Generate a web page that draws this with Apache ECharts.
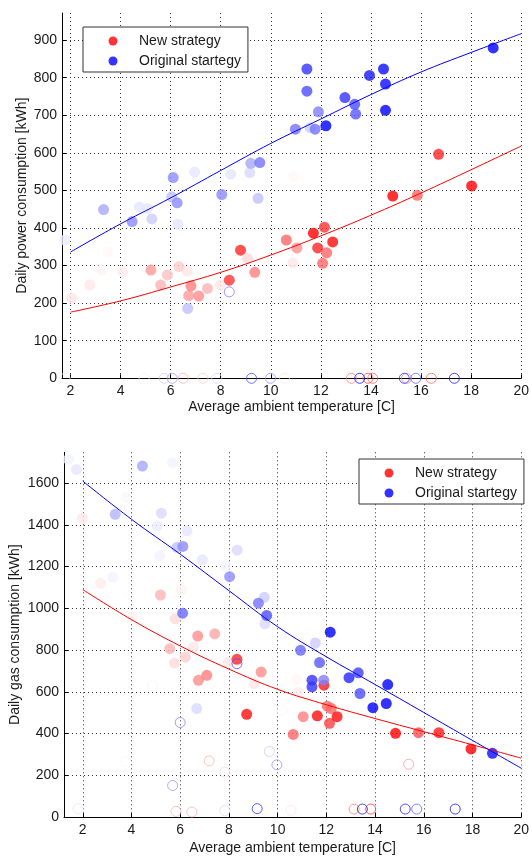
<!DOCTYPE html>
<html><head><meta charset="utf-8">
<script src="https://cdn.jsdelivr.net/npm/echarts@6/dist/echarts.min.js"></script>
<style>html,body{margin:0;padding:0;background:#fff}#c{width:532px;height:856px}</style>
</head><body><div id="c"></div>
<script>
// ---------- tick labels ----------
const tempTicks = [2,4,6,8,10,12,14,16,18,20];
const powerTicks = [0,100,200,300,400,500,600,700,800,900];
const gasTicks = [0,200,400,600,800,1000,1200,1400,1600];
const legendNames = ['New strategy', 'Original startegy'];

// ---------- data: [temperature, consumption, shade(0..1)] ----------
const powerNew = [
 [16.7,596,0.85],[18.02,512,1],[14.87,485,1],[15.85,487,0.6],[10.91,538,0.03],
 [10.62,368,0.6],[11.04,347,0.45],[11.7,386,1],[12.14,402,0.8],[12.47,363,0.95],
 [11.87,347,0.85],[12.23,334,0.6],[12.07,306,0.6],[10.88,307,0.1],
 [8.79,341,0.85],[9.07,319,0.15],[9.36,282,0.5],[8.34,261,0.8],[7.98,248,0.1],
 [7.47,239,0.3],[7.12,219,0.45],[6.72,220,0.4],[6.81,246,0.5],[6.33,297,0.2],
 [6.66,285,0.1],[5.87,275,0.25],[5.21,288,0.4],[5.6,248,0.3],[4.09,284,0.08],
 [3.23,288,0.05],[2.77,248,0.1],[2.05,213,0.1],[3.49,337,0.03]
];
const powerOrig = [
 [18.88,879,1],[11.44,823,0.8],[11.44,764,0.7],[13.94,806,0.9],[14.5,823,0.95],
 [14.58,783,0.95],[12.96,747,0.8],[13.35,729,0.7],[13.39,703,0.65],[14.58,713,1],
 [11.9,709,0.5],[12.2,672,1],[10.98,663,0.55],[11.57,667,0.2],[11.77,663,0.55],
 [9.56,574,0.55],[9.2,572,0.35],[6.1,534,0.45],[6.96,549,0.1],[8.4,543,0.1],
 [9.16,547,0.15],[8.04,489,0.45],[9.49,479,0.25],[6.04,483,0.25],[6.26,467,0.45],
 [3.32,449,0.35],[4.46,417,0.45],[4.75,456,0.1],[5.08,452,0.1],[5.25,424,0.2],
 [6.29,410,0.1],[1.78,368,0.08],[6.68,186,0.25]
];
const powerNewOpen = [
 [6.5,0,0.3],[7.29,0,0.2],[10.54,0,0.1],[13.22,0,0.5],[13.88,0,0.7],[14.07,0,0.6],
 [15.42,0,0.5],[16.41,0,0.6]
];
const powerOrigOpen = [
 [1.78,0,0.05],[4.94,0,0.05],[5.74,0,0.2],[6.06,0,0.35],[7.84,0,0.15],[9.23,0,0.7],
 [9.99,0,0.4],[13.55,0,0.9],[15.33,0,0.8],[15.79,0,0.6],[17.33,0,0.9],[8.34,230,0.5]
];
const gasNew = [
 [17.94,326,1],[16.62,404,0.9],[15.78,404,0.7],[14.84,401,1],[12.44,481,0.95],
 [12.13,449,0.75],[11.63,485,0.95],[12.04,531,0.6],[12.2,520,0.6],[11.9,632,0.9],
 [11.05,481,0.5],[10.64,396,0.6],[10.84,597,0.08],[10.78,660,0.03],[9.32,695,0.45],
 [8.33,756,0.85],[8.73,492,0.95],[7.09,679,0.5],[6.75,655,0.45],[5.77,738,0.15],
 [6.21,767,0.2],[5.57,807,0.3],[6.54,815,0.1],[9.05,640,0.1],[7.96,740,0.1],
 [5.19,1064,0.3],[6.72,867,0.45],[7.42,878,0.35],[5.8,950,0.15],[2.73,1120,0.08],
 [6.04,1088,0.05],[4.04,958,0.05],[1.99,1432,0.1]
];
const gasOrig = [
 [1.41,1714,0.05],[1.74,1666,0.1],[4.45,1682,0.35],[5.69,1698,0.05],[3.33,1451,0.3],
 [5.23,1456,0.15],[5.06,1395,0.08],[3.77,1531,0.03],[6.28,1371,0.1],[6.11,1297,0.45],
 [5.87,1292,0.25],[5.16,1252,0.05],[6.91,1233,0.1],[8.34,1279,0.15],[8.03,1152,0.45],
 [7.86,1204,0.05],[3.23,1149,0.05],[6.1,977,0.6],[9.21,1025,0.55],[9.45,1053,0.2],
 [9.55,966,0.7],[9.48,926,0.15],[12.16,886,1],[11.55,834,0.2],[10.94,799,0.6],
 [11.72,740,0.65],[11.41,656,0.8],[11.41,624,0.8],[11.89,656,0.5],[12.93,668,0.85],
 [13.31,691,0.75],[13.38,592,0.7],[14.52,635,1],[14.46,544,1],[13.91,524,1],
 [18.82,305,0.95],[6.68,520,0.15]
];
const gasNewOpen = [
 [7.19,269,0.3],[7.83,215,0.15],[5.83,27,0.3],[6.48,24,0.3],[10.55,32,0.1],
 [13.14,38,0.5],[13.82,38,0.8],[15.38,253,0.4],[10.17,512,0.05],[3.77,266,0.05]
];
const gasOrigOpen = [
 [8.33,735,0.7],[6.0,453,0.5],[5.69,151,0.4],[4.86,632,0.05],[1.81,40,0.1],
 [7.83,30,0.15],[9.16,40,0.8],[9.66,314,0.2],[9.97,250,0.4],[13.48,38,0.9],
 [15.24,38,0.85],[15.71,38,0.6],[17.29,38,0.9]
];

// ---------- fitted trend lines ----------
const fitX = [2,4,6,8,10,12,14,16,18,20];
const powerNewFit = [176,206,243,282,328,379,434,493,555,618];
const powerOrigFit = [336,411,480,553,625,690,755,815,867,917];
const gasNewFit = [1090,946,820,709,612,538,472,409,346,282];
const gasOrigFit = [1610,1427,1260,1085,912,768,635,501,367,234];

// ---------- helpers ----------
const RED = '#ff0000', BLUE = '#0000ff';
function shade(base, a) {
  const v = Math.round(255 * (1 - a));
  return base === 'red' ? `rgb(255,${v},${v})` : `rgb(${v},${v},255)`;
}
function filled(arr, base) {
  return arr.slice().sort((p, q) => p[2] - q[2]).map(p => ({
    value: [p[0], p[1]], itemStyle: { color: shade(base, p[2]) }
  }));
}
function hollow(arr, base) {
  return arr.slice().sort((p, q) => p[2] - q[2]).map(p => ({
    value: [p[0], p[1]],
    itemStyle: { color: 'rgba(0,0,0,0)', borderColor: shade(base, p[2]), borderWidth: 1 }
  }));
}
function fit(ys) { return fitX.map((x, i) => [x, ys[i]]); }

const FONT = { fontFamily: 'Liberation Sans, Arial, sans-serif', fontSize: 14, color: '#1a1a1a' };
const gridLine = { show: true, showMaxLine: false, lineStyle: { color: '#333', type: [1, 3], width: 1 } };

function xAxisDef(gi, min, gap) {
  return {
    type: 'value', gridIndex: gi, min: min, max: 20, splitNumber: 9, minInterval: 2, maxInterval: 2,
    name: 'Average ambient temperature [C]', nameLocation: 'middle', nameGap: gap,
    nameMoveOverlap: false, nameTextStyle: FONT,
    axisLine: { show: true, onZero: false, lineStyle: { color: '#000', width: 1 } },
    axisTick: { show: true, inside: true, length: 4, lineStyle: { color: '#000' } },
    axisLabel: Object.assign({ margin: 6, showMinLabel: false,
      formatter: v => tempTicks.includes(+v) ? String(v) : '' }, FONT),
    splitLine: { show: true, showMinLine: false, lineStyle: { color: '#333', type: [1, 3], width: 1 } }
  };
}
function yAxisDef(gi, max, interval, name, gap, ticks) {
  return {
    type: 'value', gridIndex: gi, min: 0, max: max, interval: interval,
    name: name, nameLocation: 'middle', nameGap: gap, nameMoveOverlap: false, nameTextStyle: FONT,
    axisLine: { show: true, onZero: false, lineStyle: { color: '#000', width: 1 } },
    axisTick: { show: true, inside: true, length: 4, lineStyle: { color: '#000' } },
    axisLabel: Object.assign({ margin: 5, showMaxLabel: false,
      formatter: v => ticks.includes(+v) ? String(v) : '' }, FONT),
    splitLine: gridLine
  };
}
function scatter(name, data, xi, color, size, z) {
  return { type: 'scatter', name: name, xAxisIndex: xi, yAxisIndex: xi, data: data,
    symbol: 'circle', symbolSize: size, itemStyle: { color: color }, z: z,
    emphasis: { disabled: true }, silent: true };
}
function line(name, data, xi, color) {
  return { type: 'line', name: name, xAxisIndex: xi, yAxisIndex: xi, data: data,
    showSymbol: false, smooth: 0.4, lineStyle: { color: color, width: 1 }, itemStyle: { color: color },
    z: 5, silent: true, emphasis: { disabled: true } };
}
function legendDef(left, top) {
  return {
    left: left, top: top, orient: 'vertical', icon: 'circle',
    itemWidth: 42, itemHeight: 9, itemGap: 4,
    padding: [6, 7, 3, 25.5], borderColor: '#333', borderWidth: 1, backgroundColor: '#fff',
    textStyle: Object.assign({ lineHeight: 16 }, FONT),
    selectedMode: false,
    data: [
      { name: legendNames[0], itemStyle: { color: RED } },
      { name: legendNames[1], itemStyle: { color: BLUE } }
    ]
  };
}

const chart = echarts.init(document.getElementById('c'), null, { renderer: 'canvas' });
chart.setOption({
  animation: false,
  backgroundColor: '#fff',
  grid: [
    { left: 62, right: 6, top: 13, height: 365.3 },
    { left: 62.3, right: 7.7, top: 452.3, height: 366.7 }
  ],
  xAxis: [ xAxisDef(0, 1.66, 22), xAxisDef(1, 1.23, 24) ],
  yAxis: [
    yAxisDef(0, 972, 100, 'Daily power consumption [kWh]', 33, powerTicks),
    yAxisDef(1, 1748, 200, 'Daily gas consumption [kWh]', 42, gasTicks)
  ],
  legend: [ legendDef(83, 27), legendDef(359, 459) ],
  series: [
    scatter(legendNames[0], filled(powerNew, 'red'), 0, RED, 11, 2),
    scatter('pn-open', hollow(powerNewOpen, 'red'), 0, RED, 10, 2),
    scatter(legendNames[1], filled(powerOrig, 'blue'), 0, BLUE, 11, 3),
    scatter('po-open', hollow(powerOrigOpen, 'blue'), 0, BLUE, 10, 3),
    line('pn-fit', fit(powerNewFit), 0, RED),
    line('po-fit', fit(powerOrigFit), 0, BLUE),
    scatter(legendNames[0], filled(gasNew, 'red'), 1, RED, 11, 2),
    scatter('gn-open', hollow(gasNewOpen, 'red'), 1, RED, 10, 2),
    scatter(legendNames[1], filled(gasOrig, 'blue'), 1, BLUE, 11, 3),
    scatter('go-open', hollow(gasOrigOpen, 'blue'), 1, BLUE, 10, 3),
    line('gn-fit', fit(gasNewFit), 1, RED),
    line('go-fit', fit(gasOrigFit), 1, BLUE)
  ]
});
</script></body></html>
